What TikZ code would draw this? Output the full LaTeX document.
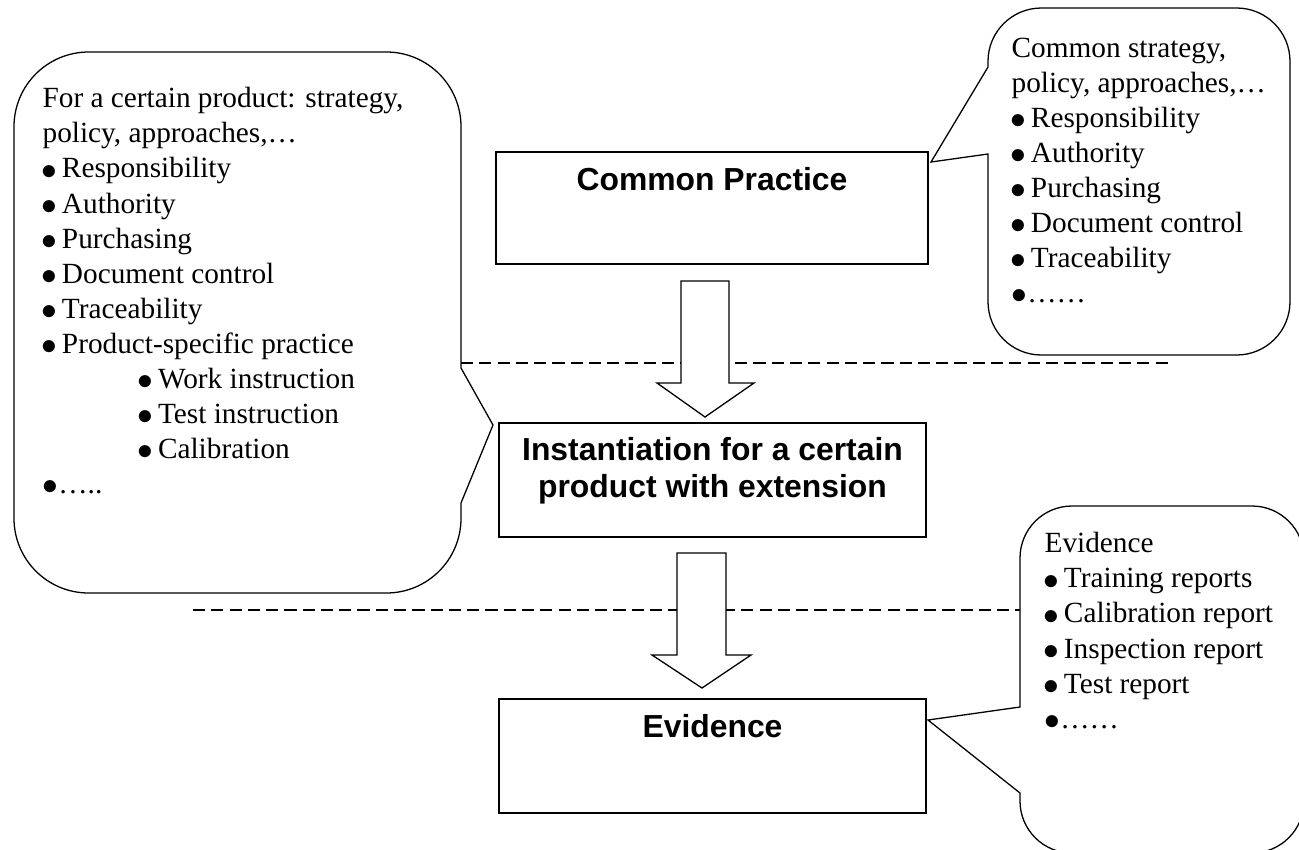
\documentclass[tikz,border=0pt]{standalone}
\usepackage{fontspec}
\setmainfont{Liberation Serif}
\setsansfont{Liberation Sans}
\usepackage{graphicx}
\usepackage{tikz}

\newcommand{\bigbul}{\raisebox{-0.04em}{\scalebox{1.12}{$\bullet$}}}
\newcommand{\blt}{\makebox[0.66em][l]{\hspace{-0.05em}\bigbul}}

\begin{document}
\begin{tikzpicture}[x=0.015cm, y=-0.015cm, line width=0.55pt,
                    practice/.style={draw, fill=white, rectangle, minimum width=6.45cm, minimum height=1.7cm, inner sep=0pt},
                    boxtitle/.style={font=\sffamily\bfseries\fontsize{13.6}{15.8}\selectfont, align=center, inner sep=0pt},
                    callnotes/.style={font=\fontsize{12.5}{14.94}\selectfont, align=left, anchor=north west, inner sep=0pt},
                    bubble/.style={draw, fill=white, rounded corners=#1},
                    divider/.style={dash pattern=on 5.2pt off 2.6pt},
                    blockarrow/.style={draw, fill=white}]
                    \useasboundingbox (0,0) rectangle (1299,849);
                    % callouts
                    \path[bubble=1.12cm] (461,503) -- (461,593) -- (14,593) -- (14,52) -- (461,52)
                      [sharp corners] -- (461,368) -- (493,425) -- cycle;
                    \path[bubble=0.8cm] (988,154) -- (988,355) -- (1290,355) -- (1290,8) -- (988,8)
                      [sharp corners] -- (988,67) -- (931,162) -- cycle;
                    \path[bubble=0.78cm] (1020,793) -- (1020,853) -- (1304,853) -- (1304,506) -- (1020,506)
                      [sharp corners] -- (1020,707) -- (928,720) -- cycle;
                    \node[callnotes] (product) at (42,87) {For a certain product: strategy,\\
                      policy, approaches,…\\
                      \blt Responsibility\\
                      \blt Authority\\
                      \blt Purchasing\\
                      \blt Document control\\
                      \blt Traceability\\
                      \blt Product-specific practice\\
                      \hspace*{41pt}\blt Work instruction\\
                      \hspace*{41pt}\blt Test instruction\\
                      \hspace*{41pt}\blt Calibration\\
                      \bigbul….. };
                    \node[callnotes] (commonnotes) at (1011,37) {Common strategy,\\
                      policy, approaches,…\\
                      \blt Responsibility\\
                      \blt Authority\\
                      \blt Purchasing\\
                      \blt Document control\\
                      \blt Traceability\\
                      \bigbul…… };
                    \node[callnotes] (evidnotes) at (1044,532) {Evidence\\
                      \blt Training reports\\
                      \blt Calibration report\\
                      \blt Inspection report\\
                      \blt Test report\\
                      \bigbul…… };
                    % separators
                    \draw[divider] (461,363) -- (1172,363);
                    \draw[divider] (193,610) -- (1020,610);
                    % boxes
                    \node[practice, minimum width=6.48cm, minimum height=1.68cm] (common) at (712,208) {};
                    \node[practice, minimum width=6.405cm, minimum height=1.71cm] (inst) at (712.5,480) {};
                    \node[practice, minimum width=6.405cm, minimum height=1.71cm] (evid) at (712.5,756) {};
                    \node[boxtitle, anchor=base] (commontitle) at (712,190) {Common Practice};
                    \node[boxtitle, anchor=north] (insttitle) at (712.5,437) {Instantiation for a certain\\ product with extension};
                    \node[boxtitle, anchor=base] (evidtitle) at (712.5,737) {Evidence};
                    % block arrows
                    \path[blockarrow] (681,281) -- (729,281) -- (729,383) -- (754,383) -- (705,417) -- (657,383) -- (681,383) -- cycle;
                    \path[blockarrow] (677,553) -- (726,553) -- (726,655) -- (751,655) -- (702,688) -- (652,655) -- (677,655) -- cycle;
                \end{tikzpicture}
\end{document}
